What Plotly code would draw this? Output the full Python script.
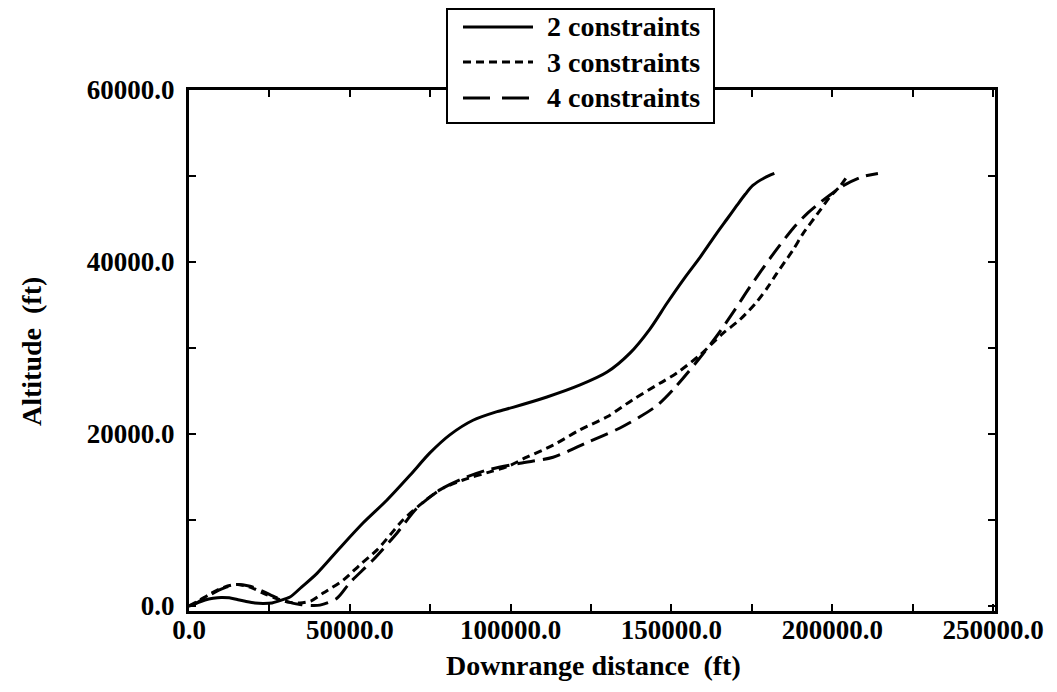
import plotly.graph_objects as go

# Downrange distance (ft) / altitude (ft) for each constraint case
x_2c = [0, 2500, 5000, 7500, 10000, 12500, 15000, 17500, 20500, 23000, 25800, 28000,
        31400, 35000, 39800, 46900, 54100, 61500, 68700, 74900, 81100, 88300, 95800,
        100700, 111300, 121600, 130000, 137100, 143300, 148600, 154000, 159000, 164000,
        167300, 170400, 173000, 175300, 179000, 182000]
y_2c = [0, 350, 700, 900, 1000, 950, 750, 550, 350, 300, 350, 600,
        1050, 2200, 3800, 6750, 9650, 12300, 15200, 17800, 19900, 21600, 22600,
        23100, 24300, 25700, 27200, 29400, 32200, 35200, 38100, 40600, 43300,
        45000, 46600, 47900, 48900, 49800, 50300]

x_3c = [0, 3000, 7000, 11000, 15000, 19000, 23000, 27000, 31000, 34500, 38000, 41700,
        47900, 53200, 58400, 62500, 66500, 71800, 78000, 85200, 93600, 98900, 105000,
        113200, 121600, 130000, 138000, 146400, 151700, 158900, 166000, 171300, 176600,
        180000, 182800, 187800, 190900, 196200, 199300, 202400, 204900]
y_3c = [0, 600, 1500, 2200, 2500, 2200, 1500, 900, 450, 350, 600, 1500,
        3000, 4800, 6500, 8250, 10000, 11750, 13500, 14650, 15600, 16200, 17300,
        18700, 20500, 22000, 24000, 25900, 27100, 29200, 31700, 33300, 35400,
        37100, 38700, 41400, 43300, 46000, 47600, 48800, 50100]

x_4c = [0, 3000, 7000, 11000, 15000, 19000, 23000, 27000, 31000, 35000, 38500, 40700,
        46000, 50000, 57200, 64700, 70900, 78000, 85000, 92600, 102900, 113200, 123700,
        134000, 140200, 145800, 151100, 158300, 164500, 169800, 174400, 180600, 187800,
        192100, 195200, 199300, 204000, 209200, 214200]
y_4c = [0, 500, 1400, 2100, 2500, 2300, 1700, 1000, 450, 150, 50, 100,
        900, 2700, 5350, 8500, 11400, 13500, 14800, 15800, 16600, 17300, 19000,
        20700, 22000, 23400, 25400, 28600, 31600, 34500, 37100, 40400, 43900,
        45600, 46600, 47800, 49000, 49900, 50300]

series_names = ["2 constraints", "3 constraints", "4 constraints"]

x_tickvals = [0, 25000, 50000, 75000, 100000, 125000, 150000, 175000, 200000, 225000, 250000]
x_ticktext = ["0.0", "", "50000.0", "", "100000.0", "", "150000.0", "", "200000.0", "", "250000.0"]
y_tickvals = [0, 10000, 20000, 30000, 40000, 50000, 60000]
y_ticktext = ["0.0", "", "20000.0", "", "40000.0", "", "60000.0"]

x_title = "Downrange distance  (ft)"
y_title = "Altitude  (ft)"

FONT = "Liberation Serif"
W, H = 1057, 692
ML, MR, MT, MB = 189, 62, 90, 81
PW, PH = W - ML - MR, H - MT - MB

curve_dash = ["solid", "8px,5px", "18px,8px"]
legend_dash = ["solid", "8px,5px", "27px,12px"]


def px_x(px):
    return (px - ML) / PW


def px_y(py):
    return (H - MB - py) / PH


fig = go.Figure()
for xs, ys, name, dash in zip([x_2c, x_3c, x_4c], [y_2c, y_3c, y_4c], series_names, curve_dash):
    fig.add_trace(go.Scatter(
        x=xs, y=ys, mode="lines", name=name, showlegend=False,
        line=dict(color="black", width=3, dash=dash, shape="spline", smoothing=0.8),
    ))

axis_common = dict(
    showgrid=False, zeroline=False, showline=True, linecolor="black", linewidth=3,
    mirror="ticks", ticks="inside", ticklen=7, tickwidth=2, tickcolor="black",
    tickmode="array",
    tickfont=dict(family=FONT, size=27, color="black", weight="bold"),
)
fig.update_xaxes(range=[0, 250600], tickvals=x_tickvals, ticktext=x_ticktext,
                 ticklabelstandoff=-7, **axis_common)
fig.update_yaxes(range=[-580, 60000], tickvals=y_tickvals, ticktext=y_ticktext,
                 ticklabelstandoff=6, **axis_common)

shapes = []
annotations = []

# boxed key above the frame
box_l, box_r, box_t, box_b = 447, 714, 9, 123
shapes.append(dict(type="rect", xref="paper", yref="paper",
                   x0=px_x(box_l), x1=px_x(box_r), y0=px_y(box_b), y1=px_y(box_t),
                   line=dict(color="black", width=2), fillcolor="white", layer="above"))
row_y = [27, 62, 98]
for ry, name, dash in zip(row_y, series_names, legend_dash):
    shapes.append(dict(type="line", xref="paper", yref="paper",
                       x0=px_x(463), x1=px_x(533), y0=px_y(ry), y1=px_y(ry),
                       line=dict(color="black", width=3, dash=dash), layer="above"))
    annotations.append(dict(xref="paper", yref="paper", x=px_x(545), y=px_y(ry),
                            xanchor="left", yanchor="middle", showarrow=False, text=name,
                            font=dict(family=FONT, size=28, color="black", weight="bold")))

annotations.append(dict(xref="paper", yref="paper", x=px_x(593), y=px_y(665),
                        xanchor="center", yanchor="middle", showarrow=False, text=x_title,
                        font=dict(family=FONT, size=28, color="black", weight="bold")))
annotations.append(dict(xref="paper", yref="paper", x=px_x(31), y=px_y(352),
                        xanchor="center", yanchor="middle", showarrow=False, text=y_title,
                        textangle=-90,
                        font=dict(family=FONT, size=28, color="black", weight="bold")))

fig.update_layout(
    width=W, height=H,
    margin=dict(l=ML, r=MR, t=MT, b=MB),
    paper_bgcolor="white", plot_bgcolor="white",
    shapes=shapes, annotations=annotations,
    showlegend=False,
)

fig.write_html("out.html")
